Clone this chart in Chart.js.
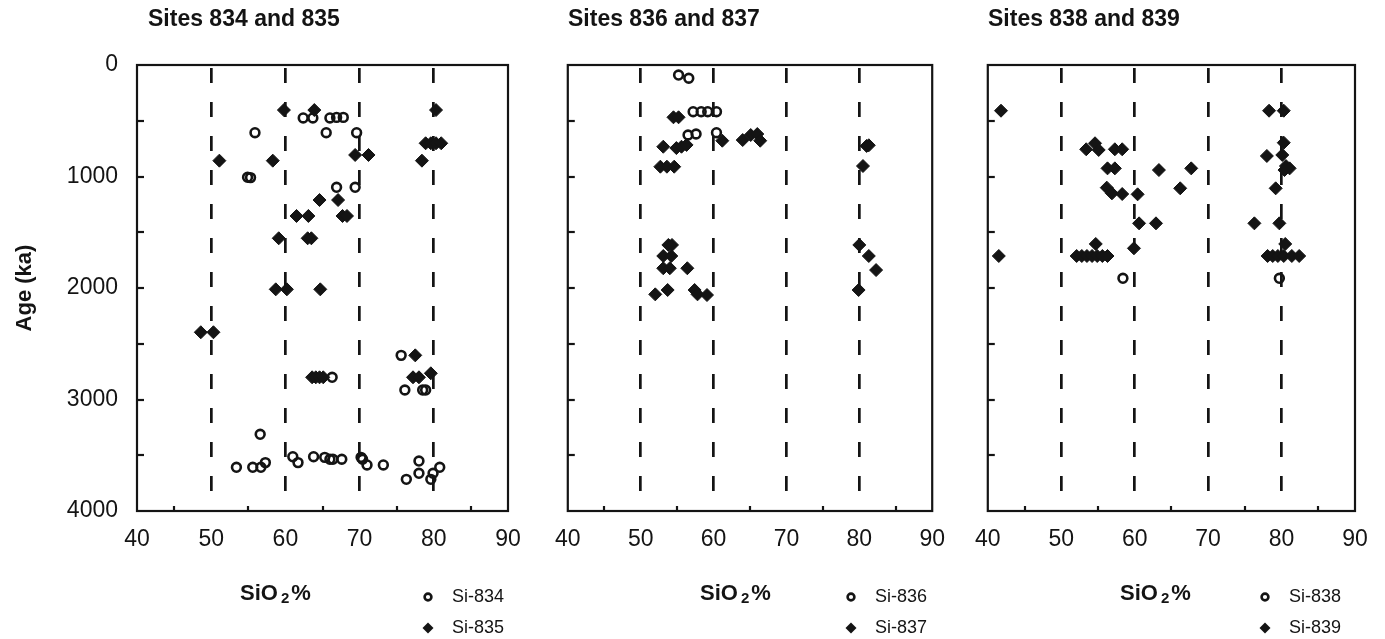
<!DOCTYPE html>
<html>
<head>
<meta charset="utf-8">
<script src="https://cdn.jsdelivr.net/npm/chart.js@4.4.0/dist/chart.umd.min.js"></script>
<style>
html,body{margin:0;padding:0;background:#fff;width:1385px;height:639px;overflow:hidden;}
canvas{position:absolute;top:0;}
</style>
</head>
<body>
<canvas id="c1" width="540" height="639" style="left:0px"></canvas>
<canvas id="c2" width="420" height="639" style="left:540px"></canvas>
<canvas id="c3" width="425" height="639" style="left:960px"></canvas>
<script>
// ---------- data (SiO2 %, Age ka) ----------
const panelTitles = ['Sites 834 and 835', 'Sites 836 and 837', 'Sites 838 and 839'];
const seriesNames = [['Si-834', 'Si-835'], ['Si-836', 'Si-837'], ['Si-838', 'Si-839']];
const xTickLabels = [40, 50, 60, 70, 80, 90];
const yTickLabels = [0, 1000, 2000, 3000, 4000];
const dashedAt = [50, 60, 70, 80];

const si834 = [
  [62.4,475],[63.7,475],[66.0,475],[66.9,470],[67.8,470],
  [55.9,607],[65.5,607],[69.6,607],
  [54.9,1007],[55.3,1010],
  [66.9,1097],[69.4,1097],
  [75.6,2604],[66.3,2801],[76.1,2915],[78.5,2915],[78.9,2915],
  [56.6,3312],
  [53.4,3608],[55.6,3608],[56.7,3608],[57.3,3566],[61.0,3513],[61.7,3566],
  [63.8,3513],[65.3,3519],[66.0,3536],[66.4,3536],[67.6,3536],[70.2,3519],
  [70.4,3536],[71.0,3587],[73.2,3587],[78.0,3552],[76.3,3716],[78.0,3662],
  [79.6,3716],[79.9,3662],[80.8,3608]
];
const si835 = [
  [59.8,404],[63.9,404],[80.3,404],
  [78.9,702],[79.6,702],[80.3,702],[81.0,702],
  [69.4,807],[71.2,807],
  [51.1,858],[58.3,858],[78.4,858],
  [64.6,1211],[67.1,1211],
  [61.5,1354],[63.1,1354],[67.7,1354],[68.3,1354],
  [59.1,1554],[63.0,1554],[63.5,1554],
  [58.7,2012],[60.2,2012],[64.7,2012],
  [48.6,2397],[50.3,2397],
  [77.5,2604],
  [63.6,2801],[64.1,2801],[64.6,2801],[65.1,2801],
  [77.2,2801],[78.0,2801],[79.6,2765]
];
const si836 = [
  [55.2,90],[56.6,119],
  [57.2,419],[58.3,419],[59.2,419],[60.4,419],
  [56.5,628],[57.6,619],[60.4,607]
];
const si837 = [
  [54.5,469],[55.2,469],
  [61.2,679],[64.0,673],[65.1,628],[66.0,619],[66.4,679],
  [53.1,733],[54.9,745],[55.6,733],[56.3,717],
  [81.0,726],[81.3,720],
  [52.7,912],[53.6,912],[54.6,912],[80.5,906],
  [53.8,1614],[54.3,1614],[53.1,1713],[54.2,1713],[53.1,1823],[54.0,1823],[56.4,1823],
  [52.0,2057],[53.7,2018],[57.4,2018],[57.8,2057],[59.1,2063],
  [80.0,1614],[81.3,1713],[82.3,1839],[79.9,2018]
];
const si838 = [
  [58.4,1913],[79.7,1913]
];
const si839 = [
  [41.8,410],[78.3,410],[80.3,410],
  [53.4,756],[54.6,702],[55.1,762],[57.3,756],[58.3,756],[80.3,697],
  [78.0,816],[80.1,807],
  [56.3,927],[57.3,927],[63.3,942],[67.7,927],[80.6,906],[81.1,927],[80.4,942],
  [56.2,1100],[56.9,1151],[58.3,1157],[60.4,1160],[66.2,1106],[79.2,1106],
  [60.6,1420],[62.9,1420],[76.3,1420],[79.7,1420],
  [54.7,1605],[59.9,1644],[80.5,1605],
  [41.5,1713],[52.1,1713],[52.8,1713],[53.5,1713],[54.2,1713],[54.9,1713],[55.6,1713],[56.3,1713],
  [78.1,1713],[78.8,1713],[79.5,1713],[80.3,1713],[81.4,1713],[82.4,1713]
];

// ---------- drawing ----------
const INK = '#141414';
const FONT = '"Liberation Sans", Arial, Helvetica, sans-serif';

const toPts = arr => arr.map(p => ({x: p[0], y: p[1]}));

const decoPlugin = {
  id: 'deco',
  afterDraw(chart, args, o) {
    const {ctx, chartArea: a, scales: {x, y}} = chart;
    ctx.save();
    // frame
    ctx.strokeStyle = INK;
    ctx.lineWidth = 2.2;
    ctx.setLineDash([]);
    ctx.strokeRect(a.left, a.top, a.right - a.left, a.bottom - a.top);
    // inward y tick marks
    y.ticks.forEach(t => {
      if (t.value <= 0 || t.value >= 4000) return;
      const py = Math.round(y.getPixelForValue(t.value));
      ctx.beginPath(); ctx.moveTo(a.left, py); ctx.lineTo(a.left + 7, py); ctx.stroke();
    });
    // inward x minor tick marks
    x.ticks.forEach(t => {
      if (t.value % 10 === 0) return;
      const px = Math.round(x.getPixelForValue(t.value));
      ctx.beginPath(); ctx.moveTo(px, a.bottom); ctx.lineTo(px, a.bottom - 5); ctx.stroke();
    });
    // panel title
    ctx.fillStyle = INK;
    ctx.textBaseline = 'middle';
    ctx.textAlign = 'left';
    ctx.font = 'bold 23px ' + FONT;
    ctx.fillText(o.title, o.titleX, 20);
    // x axis title  SiO2%
    let tx = o.xTitleX;
    const ty = 594;
    ctx.font = 'bold 22px ' + FONT;
    ctx.fillText('SiO', tx, ty);
    tx += ctx.measureText('SiO').width + 3;
    ctx.font = 'bold 15px ' + FONT;
    ctx.fillText('2', tx, ty + 5);
    tx += ctx.measureText('2').width + 2;
    ctx.font = 'bold 22px ' + FONT;
    ctx.fillText('%', tx, ty);
    // legend
    ctx.font = '18px ' + FONT;
    const lx = o.legendX, ly1 = 597, ly2 = 628;
    ctx.lineWidth = 2.6;
    ctx.beginPath(); ctx.arc(lx, ly1, 3.4, 0, Math.PI * 2); ctx.stroke();
    ctx.beginPath();
    ctx.moveTo(lx - 5.5, ly2); ctx.lineTo(lx, ly2 - 5.5); ctx.lineTo(lx + 5.5, ly2); ctx.lineTo(lx, ly2 + 5.5);
    ctx.closePath(); ctx.fill();
    ctx.fillText(o.names[0], lx + 24, ly1);
    ctx.fillText(o.names[1], lx + 24, ly2);
    ctx.restore();
  }
};

function makePanel(id, circles, diamonds, cfg) {
  const showY = cfg.showY;
  return new Chart(document.getElementById(id), {
    type: 'scatter',
    data: {
      datasets: [
        {
          label: cfg.names[0],
          data: toPts(circles),
          pointStyle: 'circle',
          pointRadius: 4.4,
          pointBorderWidth: 2.6,
          pointBorderColor: INK,
          pointBackgroundColor: 'rgba(255,255,255,0)',
          showLine: false
        },
        {
          label: cfg.names[1],
          data: toPts(diamonds),
          pointStyle: 'rectRot',
          pointRadius: 6.5,
          pointBorderWidth: 1,
          pointBorderColor: INK,
          pointBackgroundColor: INK,
          showLine: false
        }
      ]
    },
    options: {
      responsive: false,
      animation: false,
      events: [],
      layout: {padding: {top: 65, right: cfg.padRight, bottom: 0, left: 0}},
      plugins: {
        legend: {display: false},
        tooltip: {enabled: false},
        title: {display: false},
        deco: {title: cfg.title, titleX: cfg.titleX, xTitleX: cfg.xTitleX, legendX: cfg.legendX, names: cfg.names}
      },
      scales: {
        x: {
          type: 'linear',
          min: 40, max: 90,
          ticks: {
            stepSize: 5,
            autoSkip: false,
            maxRotation: 0,
            padding: 15,
            color: INK,
            font: {family: FONT, size: 23},
            callback: v => (xTickLabels.includes(v) ? String(v) : '')
          },
          grid: {
            drawTicks: false,
            lineWidth: 2.7,
            color: c => (c.tick && dashedAt.includes(c.tick.value) ? INK : 'rgba(0,0,0,0)')
          },
          border: {display: false, dash: [15, 19], dashOffset: 31},
          afterFit: s => { s.height = 128; }
        },
        y: {
          type: 'linear',
          reverse: true,
          min: 0, max: 4000,
          ticks: {
            display: showY,
            stepSize: 500,
            autoSkip: false,
            padding: 19,
            color: INK,
            font: {family: FONT, size: 23},
            callback: v => (yTickLabels.includes(v) ? String(v) : '')
          },
          grid: {display: false, drawTicks: false},
          border: {display: false},
          title: {
            display: showY,
            text: 'Age (ka)',
            color: INK,
            font: {family: FONT, size: 22, weight: 'bold'},
            padding: {top: 12, bottom: 0}
          },
          afterFit: s => { s.width = cfg.yWidth; }
        }
      }
    },
    plugins: [decoPlugin]
  });
}

makePanel('c1', si834, si835, {
  showY: true, yWidth: 137, padRight: 32,
  title: panelTitles[0], titleX: 148, xTitleX: 240, legendX: 428, names: seriesNames[0]
});
makePanel('c2', si836, si837, {
  showY: false, yWidth: 25, padRight: 27,
  title: panelTitles[1], titleX: 28, xTitleX: 160, legendX: 311, names: seriesNames[1]
});
makePanel('c3', si838, si839, {
  showY: false, yWidth: 27, padRight: 30,
  title: panelTitles[2], titleX: 28, xTitleX: 160, legendX: 305, names: seriesNames[2]
});
</script>
</body>
</html>
